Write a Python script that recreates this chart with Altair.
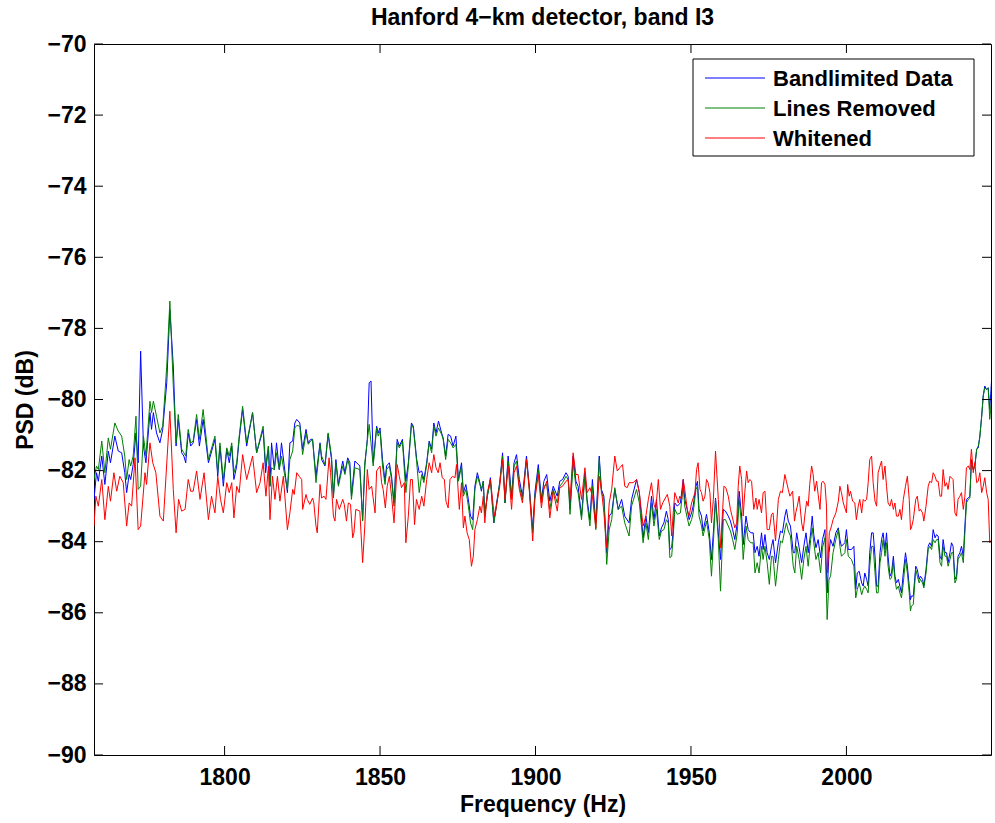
import altair as alt
import pandas as pd

FONT = "Liberation Sans"

# ---- data (frequency in Hz, PSD in dB) ----
f_bg = [
    1758.0, 1758.8, 1759.4, 1760.5, 1761.5, 1762.6, 1763.3, 1764.7, 1765.8, 1766.9,
    1767.9, 1768.5, 1769.3, 1769.8, 1770.6, 1771.5, 1772.2, 1773.0, 1773.9, 1774.7,
    1776.0, 1776.5, 1777.1, 1778.1, 1779.2, 1780.1, 1781.4, 1782.4, 1783.5, 1784.4,
    1785.1, 1786.2, 1786.9, 1787.5, 1788.3, 1789.1, 1789.9, 1791.0, 1791.9, 1793.1,
    1794.8, 1796.9, 1797.8, 1798.5, 1799.6, 1800.7, 1801.5, 1802.3, 1803.0, 1803.9,
    1804.7, 1805.8, 1807.1, 1809.0, 1810.3, 1812.4, 1813.2, 1814.1, 1814.6, 1815.1,
    1816.0, 1816.7, 1817.6, 1818.3, 1819.2, 1820.2, 1821.0,
    1821.9, 1822.6, 1823.2, 1824.2, 1825.1, 1826.2, 1826.9, 1827.7, 1828.3, 1829.4,
    1830.7, 1831.2, 1832.3, 1833.3, 1834.4, 1835.0, 1835.8, 1836.6, 1837.3, 1838.0,
    1838.7, 1839.6, 1840.3, 1840.8, 1841.9, 1843.5, 1844.4, 1845.1, 1845.9, 1846.5,
    1847.1, 1847.8, 1848.9, 1849.4, 1850.0, 1850.8, 1851.6, 1852.1, 1853.0, 1853.7,
    1854.5, 1855.5, 1856.2, 1857.2, 1858.3, 1859.1, 1860.1, 1860.7, 1861.8, 1862.6,
    1863.4, 1864.1, 1865.0, 1865.8, 1866.6, 1867.3, 1868.0, 1868.8, 1869.8, 1870.3,
    1871.1, 1871.9, 1872.7, 1873.5, 1874.4, 1875.2, 1876.2, 1876.8, 1877.6, 1878.4,
    1879.1, 1879.8, 1880.5, 1881.3, 1882.1,
    1882.6, 1883.2, 1883.7, 1884.5, 1885.5, 1886.6, 1887.5, 1888.5, 1889.4, 1890.2,
    1891.2, 1892.3, 1893.1, 1893.9, 1894.8, 1895.8, 1897.1, 1898.0, 1899.1, 1899.8,
    1900.9, 1901.9, 1902.7, 1903.6, 1904.6, 1905.7, 1907.0, 1907.8, 1908.7, 1909.8,
    1910.5, 1911.1, 1912.1, 1913.0, 1913.7, 1914.8, 1915.9, 1916.6, 1917.5, 1918.3,
    1919.4, 1920.5, 1921.2, 1922.0, 1922.9, 1923.7, 1924.5, 1925.5, 1926.6, 1927.7,
    1928.7, 1930.1, 1930.9, 1932.5, 1933.4, 1934.6, 1935.5, 1936.3, 1937.3, 1938.1,
    1938.9, 1939.8, 1940.5, 1941.3, 1942.1, 1942.7, 1943.2,
    1943.8, 1944.3, 1944.8, 1945.6, 1946.6, 1947.5, 1948.0, 1948.8, 1949.4, 1950.2,
    1950.7, 1951.6, 1952.1, 1952.6, 1953.4, 1953.9, 1955.0, 1955.9, 1956.6, 1957.2,
    1957.9, 1958.8, 1959.5, 1960.4, 1961.1, 1962.0, 1962.7, 1963.4, 1964.1, 1964.9,
    1965.5, 1966.3, 1966.8, 1967.7, 1968.4, 1969.2, 1970.0, 1970.6, 1971.3, 1971.9,
    1972.7, 1973.2, 1973.8, 1974.5, 1975.2, 1975.9, 1976.4, 1977.2, 1978.1, 1978.8,
    1979.4, 1980.2, 1980.7, 1981.3, 1982.0, 1982.9, 1983.4, 1984.0, 1984.8, 1985.6,
    1986.3, 1987.0, 1987.7, 1988.5, 1989.0, 1989.5, 1990.2, 1990.9, 1991.7, 1992.3,
    1993.1, 1993.8, 1994.4, 1994.9, 1995.7, 1996.6, 1997.4, 1997.9, 1998.4, 1999.5,
    2000.0, 2000.6, 2001.6, 2002.4, 2003.0, 2003.5, 2004.1,
    2004.9, 2005.4, 2005.9, 2006.5, 2007.0, 2007.5, 2008.1, 2008.6, 2009.2, 2009.7,
    2010.2, 2010.8, 2011.3, 2011.8, 2012.4, 2012.9, 2013.4, 2014.0, 2014.5, 2015.1,
    2015.6, 2016.1, 2016.7, 2017.2, 2017.7, 2018.3, 2019.0, 2019.6, 2020.2, 2020.6,
    2020.9, 2021.5, 2022.3, 2022.8, 2023.4, 2023.8, 2024.5, 2024.9, 2025.6, 2026.3,
    2026.8, 2027.4, 2027.9, 2028.5, 2029.0, 2029.5, 2030.1, 2030.6, 2031.1, 2031.7,
    2032.2, 2032.7, 2033.3, 2033.8, 2034.3, 2034.9, 2035.4, 2035.9, 2036.5, 2037.0,
    2037.6, 2038.1, 2038.6, 2039.2, 2039.7, 2040.2, 2040.8, 2041.3, 2041.9, 2042.4,
    2042.9, 2043.5, 2044.0, 2044.5, 2045.1, 2045.6, 2046.1, 2046.7,
]

blue = [
    -82.81, -82.06, -82.30, -81.59, -82.39, -81.45, -81.78, -81.03, -81.45, -81.50,
    -82.06, -82.62, -82.11, -82.25, -81.83, -80.94, -81.78, -78.64, -81.31, -81.78,
    -80.37, -80.84, -80.37, -80.94, -81.22, -80.84, -79.53, -77.47, -79.06, -81.31,
    -80.56, -81.50, -81.59, -81.78, -80.94, -81.31, -81.22, -80.56, -81.31, -80.56,
    -81.78, -81.12, -82.16, -81.31, -82.44, -81.40, -81.78, -81.31, -82.25, -81.87,
    -81.12, -80.28, -81.31, -80.37, -81.50, -80.84, -82.06, -81.31, -82.44, -81.22,
    -81.97, -81.22, -81.97, -81.22, -81.87, -82.62, -81.22,
    -81.17, -80.66, -80.56, -80.66, -81.40, -80.84, -81.22, -81.12, -81.12, -82.16,
    -81.22, -81.69, -81.87, -80.98, -81.69, -82.72, -81.69, -82.39, -82.06, -81.73,
    -82.06, -81.64, -81.78, -82.72, -81.73, -81.87, -83.38, -81.87, -81.12, -79.53,
    -79.48, -81.78, -80.75, -80.94, -80.80, -81.69, -82.30, -81.87, -81.78, -82.16,
    -82.91, -81.12, -81.31, -81.12, -82.30, -81.78, -80.66, -80.75, -81.69, -82.06,
    -82.01, -82.25, -81.78, -81.17, -81.40, -80.66, -80.94, -80.61, -80.94, -81.08,
    -81.59, -80.98, -81.03, -81.31, -81.03, -82.25, -81.78, -82.62, -82.39, -82.81,
    -83.28, -83.38, -82.44, -82.06, -82.34,
    -82.58, -82.30, -83.19, -82.72, -82.20, -83.47, -82.91, -82.34, -81.50, -82.91,
    -81.59, -82.72, -81.78, -81.55, -82.25, -82.72, -81.59, -82.44, -83.66, -82.62,
    -81.83, -82.81, -82.30, -82.11, -82.86, -82.44, -82.72, -82.30, -82.25, -82.06,
    -82.16, -83.09, -81.59, -82.30, -82.44, -83.28, -82.06, -82.81, -83.38, -82.25,
    -83.47, -81.59, -82.53, -82.72, -84.31, -83.28, -83.19, -82.53, -83.09, -82.81,
    -83.28, -83.47, -82.81, -82.25, -82.62, -83.89, -83.28, -83.75, -82.72, -83.38,
    -82.81, -83.84, -83.61, -83.47, -83.14, -83.38, -84.22,
    -84.17, -83.66, -82.91, -83.00, -82.91, -82.25, -82.81, -83.09, -83.38, -83.19,
    -83.00, -82.44, -82.30, -83.09, -83.28, -83.70, -83.23, -83.75, -84.50, -83.75,
    -82.77, -83.75, -84.50, -83.09, -83.14, -83.28, -83.42, -83.66, -83.94, -83.47,
    -82.58, -83.28, -84.08, -83.28, -83.66, -83.75, -83.75, -84.31, -84.13, -84.41,
    -83.75, -84.22, -83.80, -84.31, -84.50, -84.13, -83.94, -84.59, -84.03, -83.70,
    -83.75, -83.28, -83.09, -83.42, -83.56, -84.31, -84.31, -83.75, -84.17, -84.59,
    -84.13, -83.75, -84.31, -83.75, -83.28, -83.80, -84.17, -83.94, -84.45, -83.94,
    -83.66, -85.44, -84.31, -83.94, -84.13, -83.75, -83.61, -83.94, -84.13, -84.03,
    -83.66, -84.22, -84.22, -84.13, -85.34, -84.88, -84.83,
    -85.16, -85.25, -84.88, -85.06, -85.25, -84.31, -83.75, -83.75, -84.41, -85.25,
    -85.25, -84.31, -83.94, -83.75, -84.22, -83.75, -84.41, -84.97, -84.88, -84.41,
    -84.97, -85.16, -85.06, -85.25, -85.44, -84.88, -84.31, -84.69, -85.25, -85.63,
    -85.53, -85.53, -84.69, -84.78, -85.06, -84.97, -85.06, -85.25, -84.78, -84.13,
    -84.03, -84.13, -83.66, -83.89, -83.80, -83.84, -84.41, -84.50, -83.94, -84.31,
    -84.31, -84.59, -84.31, -84.03, -84.13, -85.06, -84.97, -84.41, -84.31, -84.13,
    -84.41, -83.56, -82.81, -82.77, -82.72, -81.69, -81.97, -81.87, -81.40, -81.36,
    -81.03, -80.47, -79.90, -79.62, -79.72, -79.67, -80.28, -79.44,
]

green = [
    -82.25, -81.87, -81.97, -81.17, -82.06, -81.08, -81.40, -80.66, -80.89, -81.03,
    -81.59, -82.25, -81.69, -81.87, -81.59, -80.47, -82.53, -82.44, -81.03, -81.59,
    -80.05, -80.37, -80.05, -80.47, -80.94, -80.75, -79.06, -77.23, -79.62, -81.22,
    -80.42, -81.40, -81.50, -81.59, -80.84, -81.22, -81.17, -80.42, -81.12, -80.28,
    -81.69, -81.03, -82.06, -81.22, -82.25, -81.36, -81.59, -81.22, -82.06, -81.78,
    -81.03, -80.19, -81.22, -80.37, -81.50, -80.75, -81.87, -81.31, -82.44, -81.92,
    -81.97, -81.50, -81.97, -81.59, -82.06, -82.53, -81.69,
    -81.45, -80.80, -80.73, -80.75, -81.55, -80.94, -81.26, -81.17, -81.12, -82.34,
    -81.26, -81.59, -81.83, -80.94, -81.59, -82.77, -81.78, -82.44, -82.16, -81.87,
    -82.11, -81.69, -81.92, -82.81, -81.92, -81.97, -83.42, -81.78, -81.17, -80.70,
    -81.22, -81.87, -80.80, -81.03, -80.89, -81.87, -82.39, -81.97, -81.87, -82.25,
    -83.00, -81.22, -81.36, -81.17, -82.62, -81.87, -80.70, -80.80, -81.78, -82.62,
    -82.11, -82.34, -81.83, -81.22, -81.50, -80.75, -81.03, -80.80, -80.98, -81.12,
    -81.69, -81.12, -81.22, -81.36, -81.26, -82.30, -81.87, -82.72, -82.53, -83.00,
    -83.47, -83.66, -82.53, -82.16, -82.39,
    -82.53, -82.30, -83.28, -82.72, -82.30, -83.47, -82.95, -82.34, -81.59, -82.91,
    -81.73, -82.81, -81.87, -81.73, -82.44, -82.81, -81.69, -82.53, -83.75, -82.72,
    -81.97, -82.91, -82.44, -82.39, -83.09, -82.53, -82.91, -82.44, -82.34, -82.16,
    -82.25, -83.23, -81.78, -82.44, -82.62, -83.38, -82.16, -82.91, -83.56, -82.44,
    -83.66, -81.69, -82.62, -82.81, -84.64, -83.66, -83.38, -82.48, -83.09, -83.00,
    -83.47, -83.84, -83.00, -82.53, -82.91, -84.03, -83.47, -83.94, -82.91, -83.56,
    -83.09, -83.94, -83.70, -83.66, -83.38, -83.47, -84.45,
    -84.41, -83.84, -83.09, -83.23, -83.19, -82.44, -83.00, -83.33, -83.56, -83.38,
    -83.19, -82.53, -82.44, -83.28, -83.56, -83.84, -83.42, -83.94, -84.97, -84.03,
    -82.81, -83.94, -85.39, -83.38, -83.38, -83.56, -83.70, -83.94, -84.22, -83.75,
    -82.81, -83.56, -84.50, -83.56, -83.94, -84.03, -84.03, -84.88, -84.59, -84.88,
    -84.13, -84.50, -84.13, -84.59, -85.20, -84.41, -84.41, -85.25, -84.50, -83.98,
    -84.03, -83.66, -83.47, -83.70, -83.84, -84.69, -84.88, -84.13, -84.50, -85.06,
    -84.50, -84.13, -84.69, -83.94, -83.61, -84.03, -84.50, -84.31, -84.88, -84.17,
    -83.89, -86.19, -85.06, -84.97, -84.31, -83.94, -83.66, -84.13, -84.41, -84.31,
    -83.94, -84.41, -84.50, -84.69, -85.58, -85.34, -85.16,
    -85.49, -85.34, -85.25, -85.34, -85.44, -84.69, -84.13, -84.13, -84.88, -85.44,
    -85.44, -84.59, -84.31, -83.94, -84.41, -84.03, -84.69, -85.06, -85.02, -84.59,
    -85.06, -85.34, -85.25, -85.44, -85.58, -85.16, -84.50, -84.88, -85.44, -85.95,
    -85.81, -85.77, -84.78, -84.97, -85.16, -85.06, -85.16, -85.30, -84.88, -84.22,
    -84.13, -84.22, -83.94, -84.03, -83.94, -83.94, -84.59, -84.69, -84.13, -84.41,
    -84.41, -84.69, -84.50, -84.31, -84.31, -85.16, -85.06, -84.50, -84.41, -84.31,
    -84.59, -83.75, -82.91, -82.81, -82.77, -81.78, -81.97, -81.87, -81.40, -81.31,
    -81.08, -80.47, -79.90, -79.67, -79.72, -79.67, -80.56, -80.00,
]

f_red = [
    1758.0, 1758.6, 1759.4, 1760.5, 1761.5, 1762.6, 1763.3, 1764.4, 1765.3, 1766.3,
    1767.4, 1768.5, 1769.3, 1770.1, 1771.2, 1772.2, 1773.0, 1774.4, 1774.9, 1776.0,
    1776.9, 1777.9, 1779.2, 1780.3, 1782.4, 1783.5, 1784.4, 1785.2, 1786.2, 1787.3,
    1788.3, 1789.1, 1789.9, 1791.0, 1792.1, 1793.4, 1794.8, 1795.8, 1796.9, 1797.8,
    1798.7, 1799.6, 1800.7, 1801.5, 1802.3, 1803.0, 1803.9, 1804.7, 1805.8, 1807.1,
    1809.0, 1810.3, 1811.4, 1812.4, 1813.3, 1814.1, 1814.6, 1815.4, 1816.2, 1817.0,
    1817.8, 1818.9, 1820.2, 1821.0,
    1821.9, 1822.4, 1823.2, 1824.0, 1824.8, 1825.1, 1826.2, 1826.6, 1827.4, 1828.3,
    1828.7, 1829.4, 1829.8, 1830.7, 1831.2, 1832.0, 1832.6, 1833.6, 1834.1, 1835.0,
    1835.5, 1836.0, 1836.9, 1838.0, 1838.5, 1839.2, 1839.8, 1840.5, 1841.2, 1841.6,
    1842.2, 1843.5, 1844.4, 1845.1, 1845.9, 1846.5, 1847.3, 1848.4, 1848.9, 1850.0,
    1850.5, 1851.0, 1851.7, 1852.3, 1853.0, 1853.7, 1854.5, 1855.5, 1856.2, 1856.9,
    1857.8, 1858.3, 1859.1, 1859.8, 1860.4, 1861.1, 1861.7, 1862.6, 1863.4, 1864.1,
    1865.0, 1865.8, 1866.6, 1867.3, 1868.0, 1868.7, 1869.3, 1870.0, 1870.7, 1871.2,
    1871.9, 1872.5, 1873.3, 1874.1, 1874.6, 1875.5, 1876.2, 1876.8, 1877.3, 1878.0,
    1878.7, 1879.4, 1880.0, 1880.5, 1881.3, 1882.1,
    1882.6, 1883.2, 1883.7, 1884.5, 1885.5, 1886.4, 1886.9, 1888.5, 1889.4, 1890.2,
    1891.2, 1892.3, 1893.1, 1893.9, 1894.8, 1895.8, 1897.1, 1898.0, 1899.1, 1899.8,
    1900.9, 1901.9, 1902.7, 1903.6, 1904.6, 1905.7, 1907.0, 1907.8, 1908.7, 1909.8,
    1910.5, 1911.1, 1912.1, 1913.0, 1913.7, 1914.8, 1915.9, 1916.6, 1917.5, 1918.3,
    1919.4, 1920.5, 1921.2, 1922.0, 1922.9, 1923.7, 1924.5, 1925.5, 1926.3, 1927.1,
    1928.0, 1928.7, 1929.5, 1930.1, 1931.4, 1932.5, 1933.4, 1934.6, 1935.5, 1936.3,
    1937.3, 1938.1, 1938.7, 1939.5, 1940.2, 1940.9, 1942.4, 1943.2,
    1943.8, 1944.3, 1944.8, 1945.4, 1945.9, 1946.4, 1947.0, 1947.5, 1948.0, 1948.8,
    1949.4, 1950.2, 1951.3, 1951.8, 1952.3, 1952.9, 1953.4, 1953.9, 1954.5, 1955.0,
    1955.5, 1956.1, 1956.6, 1957.2, 1957.9, 1958.8, 1959.5, 1960.2, 1960.6, 1961.2,
    1962.0, 1962.7, 1963.6, 1964.1, 1964.7, 1965.2, 1965.7, 1966.3, 1966.8, 1967.3,
    1967.9, 1968.4, 1968.9, 1969.5, 1970.2, 1970.9, 1971.3, 1971.9, 1972.7, 1973.2,
    1973.8, 1974.5, 1975.2, 1975.9, 1976.4, 1977.2, 1978.1, 1978.8, 1979.4, 1980.2,
    1980.7, 1981.3, 1981.8, 1982.7, 1983.3, 1983.7, 1984.2, 1984.8, 1985.6, 1986.1,
    1986.6, 1987.2, 1987.7, 1988.2, 1988.8, 1989.3, 1989.8, 1990.4, 1990.9, 1991.5,
    1992.0, 1992.5, 1993.1, 1993.6, 1993.9, 1994.5, 1995.2, 1995.7, 1996.6, 1997.4,
    1997.9, 1998.4, 1999.0, 1999.5, 2000.0, 2000.4, 2000.9, 2001.3, 2002.0, 2002.7,
    2003.2, 2003.8, 2004.3,
    2004.9, 2005.4, 2005.9, 2006.5, 2007.0, 2007.5, 2008.1, 2008.6, 2009.2, 2009.7,
    2010.2, 2010.8, 2011.3, 2011.8, 2012.4, 2012.9, 2013.4, 2014.0, 2014.5, 2015.1,
    2015.6, 2016.1, 2016.7, 2017.2, 2017.7, 2018.3, 2019.0, 2019.6, 2020.2, 2020.6,
    2020.9, 2021.5, 2022.3, 2022.8, 2023.4, 2023.8, 2024.5, 2024.9, 2025.6, 2026.3,
    2026.8, 2027.4, 2027.9, 2028.5, 2029.0, 2029.5, 2030.1, 2030.6, 2031.1, 2031.7,
    2032.2, 2032.7, 2033.3, 2034.3, 2034.9, 2035.4, 2035.9, 2036.5, 2037.0, 2037.6,
    2038.1, 2038.6, 2039.2, 2039.7, 2040.2, 2040.8, 2041.3, 2041.9, 2042.4, 2042.9,
    2043.5, 2044.0, 2044.5, 2045.1, 2045.6, 2046.1, 2046.7,
]

red = [
    -83.56, -82.72, -83.00, -82.25, -83.38, -82.44, -82.86, -82.06, -82.58, -82.16,
    -82.34, -83.56, -82.91, -83.00, -81.64, -83.66, -83.56, -82.06, -82.39, -81.22,
    -81.78, -82.06, -83.28, -83.42, -80.33, -82.53, -83.75, -82.81, -83.14, -83.09,
    -82.25, -82.58, -82.58, -82.01, -82.81, -82.06, -83.38, -82.72, -83.19, -82.16,
    -82.81, -83.19, -82.34, -82.62, -82.34, -83.33, -82.44, -82.62, -81.55, -82.25,
    -81.59, -82.62, -82.34, -81.78, -82.72, -81.87, -83.38, -82.16, -82.81, -82.16,
    -82.86, -82.16, -83.66, -83.19,
    -82.53, -82.67, -82.06, -82.16, -82.25, -83.09, -82.67, -82.81, -82.95, -82.77,
    -82.91, -83.56, -83.75, -82.39, -82.77, -82.72, -82.81, -81.64, -82.06, -83.28,
    -83.42, -82.81, -83.09, -82.81, -82.95, -83.42, -82.91, -82.95, -83.89, -83.75,
    -83.09, -83.14, -84.59, -83.56, -81.97, -82.53, -82.44, -83.19, -82.01, -81.87,
    -82.34, -82.53, -83.05, -82.44, -82.16, -82.72, -83.47, -81.83, -82.16, -82.48,
    -82.34, -84.03, -83.28, -82.25, -82.25, -83.52, -82.81, -83.09, -82.72, -83.00,
    -82.25, -81.78, -82.06, -81.55, -81.92, -82.06, -81.78, -82.20, -82.25, -82.86,
    -83.05, -82.25, -82.16, -82.20, -81.83, -83.09, -82.34, -83.61, -83.28, -83.75,
    -83.94, -84.69, -84.41, -83.66, -83.38, -83.00,
    -83.19, -82.72, -83.47, -82.62, -82.25, -83.00, -83.28, -82.44, -81.69, -82.81,
    -81.87, -83.09, -82.06, -81.87, -82.53, -82.91, -81.69, -82.53, -83.98, -82.81,
    -82.11, -83.05, -82.53, -82.30, -83.33, -82.58, -83.14, -82.48, -82.44, -82.30,
    -82.25, -82.81, -81.50, -82.11, -82.11, -82.81, -81.92, -82.62, -82.48, -82.72,
    -83.61, -82.16, -82.53, -83.19, -84.17, -82.91, -82.53, -81.59, -82.01, -81.92,
    -81.83, -82.44, -82.48, -82.34, -82.34, -82.25, -82.62, -83.56, -83.28, -82.81,
    -82.34, -82.95, -83.09, -82.25, -83.09, -82.91, -82.67, -83.00,
    -83.84, -83.19, -82.62, -82.77, -82.91, -82.72, -82.81, -82.25, -82.53, -83.09,
    -83.28, -82.91, -82.62, -81.97, -81.78, -82.53, -82.62, -82.86, -82.72, -82.25,
    -82.34, -82.62, -83.47, -82.81, -81.45, -82.81, -84.17, -83.09, -82.44, -82.48,
    -82.72, -83.09, -83.42, -83.61, -83.47, -82.44, -81.87, -82.25, -83.28, -82.62,
    -82.01, -82.34, -82.25, -82.30, -83.09, -82.77, -83.09, -82.81, -83.19, -82.62,
    -82.58, -83.66, -83.66, -83.23, -83.19, -83.98, -82.81, -82.58, -82.62, -82.11,
    -82.30, -82.53, -82.72, -82.58, -83.42, -83.19, -83.00, -82.72, -83.47, -83.70,
    -83.28, -82.86, -83.00, -82.39, -81.87, -82.11, -82.58, -82.30, -82.67, -83.09,
    -82.34, -82.30, -82.39, -83.00, -84.88, -83.75, -83.56, -83.38, -83.19, -82.86,
    -82.44, -82.62, -82.91, -83.05, -83.19, -82.39, -82.72, -82.58, -82.86, -82.91,
    -83.38, -83.00, -82.81,
    -83.19, -82.81, -82.86, -82.81, -82.34, -81.69, -81.59, -82.34, -82.86, -83.00,
    -82.06, -81.87, -81.73, -82.25, -81.87, -82.44, -82.91, -83.00, -82.81, -83.09,
    -82.91, -83.28, -83.28, -83.09, -83.38, -82.81, -82.44, -82.16, -82.81, -83.66,
    -83.61, -83.38, -82.81, -82.72, -83.14, -83.09, -83.19, -83.42, -83.00, -82.44,
    -82.30, -82.34, -82.06, -82.16, -82.30, -82.30, -82.72, -82.72, -81.97, -82.44,
    -82.34, -82.53, -82.16, -82.25, -83.19, -83.28, -82.81, -82.72, -82.62, -83.09,
    -82.72, -81.92, -81.87, -81.97, -81.40, -82.06, -81.78, -82.34, -82.30, -82.06,
    -82.62, -82.44, -82.20, -82.62, -82.81, -84.03, -83.94,
]

series_names = ["Bandlimited Data", "Lines Removed", "Whitened"]
series_colors = ["#0000ff", "#008000", "#ff0000"]
x_ticks = [1800, 1850, 1900, 1950, 2000]
y_ticks = [-90, -88, -86, -84, -82, -80, -78, -76, -74, -72, -70]
x_domain = [1758.0, 2046.5]
y_domain = [-90, -70]
title_text = "Hanford 4\u2212km detector, band I3"
x_title = "Frequency (Hz)"
y_title = "PSD (dB)"

# ---- layout / style ----
W, H = 897, 711
TICK = 9
FS = 23

xscale = alt.Scale(domain=x_domain, nice=False, zero=False)
yscale = alt.Scale(domain=y_domain, nice=False, zero=False)

common_axis = dict(
    grid=False, ticks=False, tickSize=0, domain=False,
    labelFont=FONT, labelFontSize=FS, labelFontWeight="bold", labelColor="black",
    titleFont=FONT, titleFontSize=FS, titleFontWeight="bold", titleColor="black",
    labelFlush=False, labelOverlap=False,
)
x_axis = alt.Axis(values=x_ticks, format="d", title=x_title,
                  labelPadding=11, titlePadding=4, **common_axis)
y_axis = alt.Axis(values=y_ticks, title=y_title,
                  labelExpr="datum.value < 0 ? '\u2212' + format(-datum.value, 'd') : format(datum.value, 'd')",
                  labelPadding=8, titlePadding=9, **common_axis)


def series_layer(f, v, color):
    df = pd.DataFrame({"freq": f, "psd": v})
    return alt.Chart(df).mark_line(color=color, strokeWidth=1, clip=True).encode(
        x=alt.X("freq:Q", scale=xscale, axis=x_axis),
        y=alt.Y("psd:Q", scale=yscale, axis=y_axis),
    )


lines = [
    series_layer(f_bg, blue, series_colors[0]),
    series_layer(f_bg, green, series_colors[1]),
    series_layer(f_red, red, series_colors[2]),
]

xt = pd.DataFrame({"freq": x_ticks})
yt = pd.DataFrame({"psd": y_ticks})
tick_style = dict(color="black", strokeWidth=1)
ticks = [
    alt.Chart(xt).mark_rule(**tick_style).encode(
        x=alt.X("freq:Q", scale=xscale, axis=x_axis), y=alt.value(H), y2=alt.value(H - TICK)),
    alt.Chart(xt).mark_rule(**tick_style).encode(
        x=alt.X("freq:Q", scale=xscale, axis=x_axis), y=alt.value(0), y2=alt.value(TICK)),
    alt.Chart(yt).mark_rule(**tick_style).encode(
        y=alt.Y("psd:Q", scale=yscale, axis=y_axis), x=alt.value(0), x2=alt.value(TICK)),
    alt.Chart(yt).mark_rule(**tick_style).encode(
        y=alt.Y("psd:Q", scale=yscale, axis=y_axis), x=alt.value(W), x2=alt.value(W - TICK)),
]

one = pd.DataFrame({"k": [0]})

# chart title drawn as a text mark above the plot frame
title_layer = alt.Chart(one).mark_text(
    align="center", baseline="alphabetic", font=FONT, fontSize=FS, fontWeight="bold", color="black"
).encode(x=alt.value(W / 2), y=alt.value(-19), text=alt.value(title_text))

legend_layers = [
    alt.Chart(one).mark_rect(fill="white", stroke="black", strokeWidth=1).encode(
        x=alt.value(599), x2=alt.value(880), y=alt.value(15), y2=alt.value(112))
]
for i, (name, color) in enumerate(zip(series_names, series_colors)):
    yy = 34 + 30 * i
    legend_layers.append(
        alt.Chart(one).mark_rule(color=color, strokeWidth=1).encode(
            x=alt.value(611), x2=alt.value(671), y=alt.value(yy)))
    legend_layers.append(
        alt.Chart(one).mark_text(align="left", baseline="middle", font=FONT, fontSize=22,
                                 fontWeight="bold", color="black").encode(
            x=alt.value(679), y=alt.value(yy + 1), text=alt.value(name)))

chart = alt.layer(*lines, *ticks, title_layer, *legend_layers).properties(
    width=W,
    height=H,
    autosize=alt.AutoSizeParams(type="none"),
    padding={"left": 94, "top": 44, "right": 4, "bottom": 68},
    background="white",
).configure_view(stroke="black", strokeWidth=1)

chart.save("out.html", embed_options={"renderer": "svg", "actions": False})
